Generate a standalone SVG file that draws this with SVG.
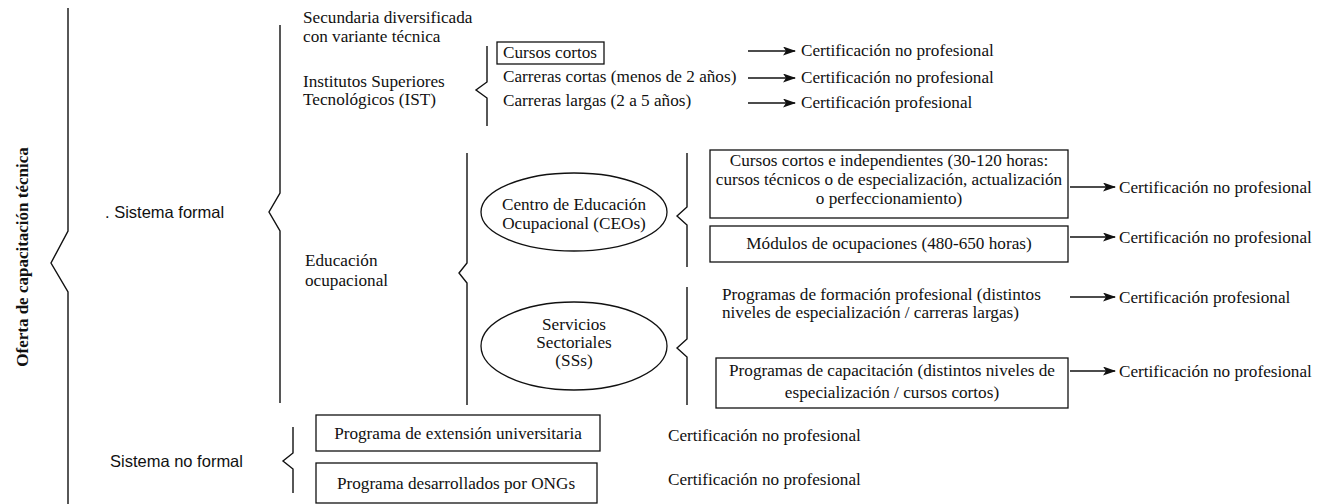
<svg xmlns="http://www.w3.org/2000/svg" width="1319" height="504" viewBox="0 0 1319 504">
<style>
.t{font-family:"Liberation Serif","Times New Roman",serif;font-size:17.2px;fill:#111}
.c{text-anchor:middle}
.s{font-family:"Liberation Sans",Arial,sans-serif;font-size:16.5px;fill:#111}
.v{font-family:"Liberation Serif","Times New Roman",serif;font-size:17px;font-weight:bold;fill:#111}
.b{fill:none;stroke:#111;stroke-width:1.4}
.box{fill:#fff;stroke:#111;stroke-width:1.3}
.ar{stroke:#111;stroke-width:1.3;fill:none;marker-end:url(#ah)}
</style>
<defs>
<marker id="ah" markerWidth="13" markerHeight="9" refX="12" refY="4.5" orient="auto" markerUnits="userSpaceOnUse"><path d="M0,0 L13,4.5 L0,9 L3,4.5 z" fill="#111"/></marker>
</defs>
<rect width="1319" height="504" fill="#fff"/>
<g id="connectors">
<path class="b" d="M68,8 V231 L51,263 L68,292 V504"/>
<path class="b" d="M280,25 V193 L269,212 L280,231 V403"/>
<path class="b" d="M487,46 V82 L476,90 L487,98 V126"/>
<path class="b" d="M467,153 V263 L459,273 L467,283 V405"/>
<path class="b" d="M687,153 V207 L677,216 L687,225 V267"/>
<path class="b" d="M687,287 V339 L677,348 L687,357 V405"/>
<path class="b" d="M293,427 V453 L283,461 L293,469 V493"/>
<line class="ar" x1="748" y1="51" x2="795" y2="51"/>
<line class="ar" x1="748" y1="78" x2="795" y2="78"/>
<line class="ar" x1="748" y1="103" x2="795" y2="103"/>
<line class="ar" x1="1070" y1="187" x2="1115" y2="187"/>
<line class="ar" x1="1070" y1="237" x2="1115" y2="237"/>
<line class="ar" x1="1070" y1="297" x2="1115" y2="297"/>
<line class="ar" x1="1070" y1="371" x2="1115" y2="371"/>
</g>
<g id="root"><text class="v" transform="translate(28,257) rotate(-90)" text-anchor="middle">Oferta de capacitación técnica</text></g>
<g id="formal"><text class="s" x="105" y="218">. Sistema formal</text></g>
<g id="noformal"><text class="s" x="110" y="467">Sistema no formal</text></g>
<g id="secundaria"><text class="t" x="303" y="23">Secundaria diversificada</text><text class="t" x="303" y="42">con variante técnica</text></g>
<g id="ist"><text class="t" x="303" y="87">Institutos Superiores</text><text class="t" x="303" y="105">Tecnológicos (IST)</text></g>
<g id="eo"><text class="t" x="305" y="266">Educación</text><text class="t" x="305" y="286">ocupacional</text></g>
<g id="cursos-cortos"><rect class="box" x="497" y="42" width="107" height="22"/><text class="t" x="503" y="58">Cursos cortos</text></g>
<g id="carreras-cortas"><text class="t" x="503" y="82">Carreras cortas (menos de 2 años)</text></g>
<g id="carreras-largas"><text class="t" x="503" y="106">Carreras largas (2 a 5 años)</text></g>
<g id="cert1"><text class="t" x="801" y="56">Certificación no profesional</text></g>
<g id="cert2"><text class="t" x="801" y="83">Certificación no profesional</text></g>
<g id="cert3"><text class="t" x="801" y="108">Certificación profesional</text></g>
<g id="ceo"><ellipse class="box" cx="574" cy="212" rx="93" ry="39"/><text class="t c" x="574" y="210">Centro de Educación</text><text class="t c" x="574" y="229">Ocupacional (CEOs)</text></g>
<g id="ss"><ellipse class="box" cx="574" cy="346" rx="93" ry="44"/><text class="t c" x="574" y="330">Servicios</text><text class="t c" x="574" y="348">Sectoriales</text><text class="t c" x="574" y="366">(SSs)</text></g>
<g id="cursos-indep"><rect class="box" x="710" y="150" width="358" height="68"/><text class="t c" x="889" y="166">Cursos cortos e independientes (30-120 horas:</text><text class="t c" x="889" y="185">cursos técnicos o de especialización, actualización</text><text class="t c" x="889" y="204">o perfeccionamiento)</text></g>
<g id="modulos"><rect class="box" x="710" y="226" width="358" height="36"/><text class="t c" x="889" y="249">Módulos de ocupaciones (480-650 horas)</text></g>
<g id="formacion"><text class="t" x="722" y="300">Programas de formación profesional (distintos</text><text class="t" x="722" y="318">niveles de especialización / carreras largas)</text></g>
<g id="capacitacion"><rect class="box" x="716" y="358" width="352" height="50"/><text class="t c" x="892" y="376">Programas de capacitación (distintos niveles de</text><text class="t c" x="892" y="398">especialización / cursos cortos)</text></g>
<g id="cert-ceo1"><text class="t" x="1119" y="193">Certificación no profesional</text></g>
<g id="cert-ceo2"><text class="t" x="1119" y="243">Certificación no profesional</text></g>
<g id="cert-ss1"><text class="t" x="1119" y="303">Certificación profesional</text></g>
<g id="cert-ss2"><text class="t" x="1119" y="377">Certificación no profesional</text></g>
<g id="extension"><rect class="box" x="316" y="415" width="284" height="36"/><text class="t c" x="458" y="439">Programa de extensión universitaria</text></g>
<g id="ongs"><rect class="box" x="316" y="463" width="281" height="40"/><text class="t c" x="456" y="489">Programa desarrollados por ONGs</text></g>
<g id="cert-ext"><text class="t" x="668" y="441">Certificación no profesional</text></g>
<g id="cert-ong"><text class="t" x="668" y="485">Certificación no profesional</text></g>
</svg>
